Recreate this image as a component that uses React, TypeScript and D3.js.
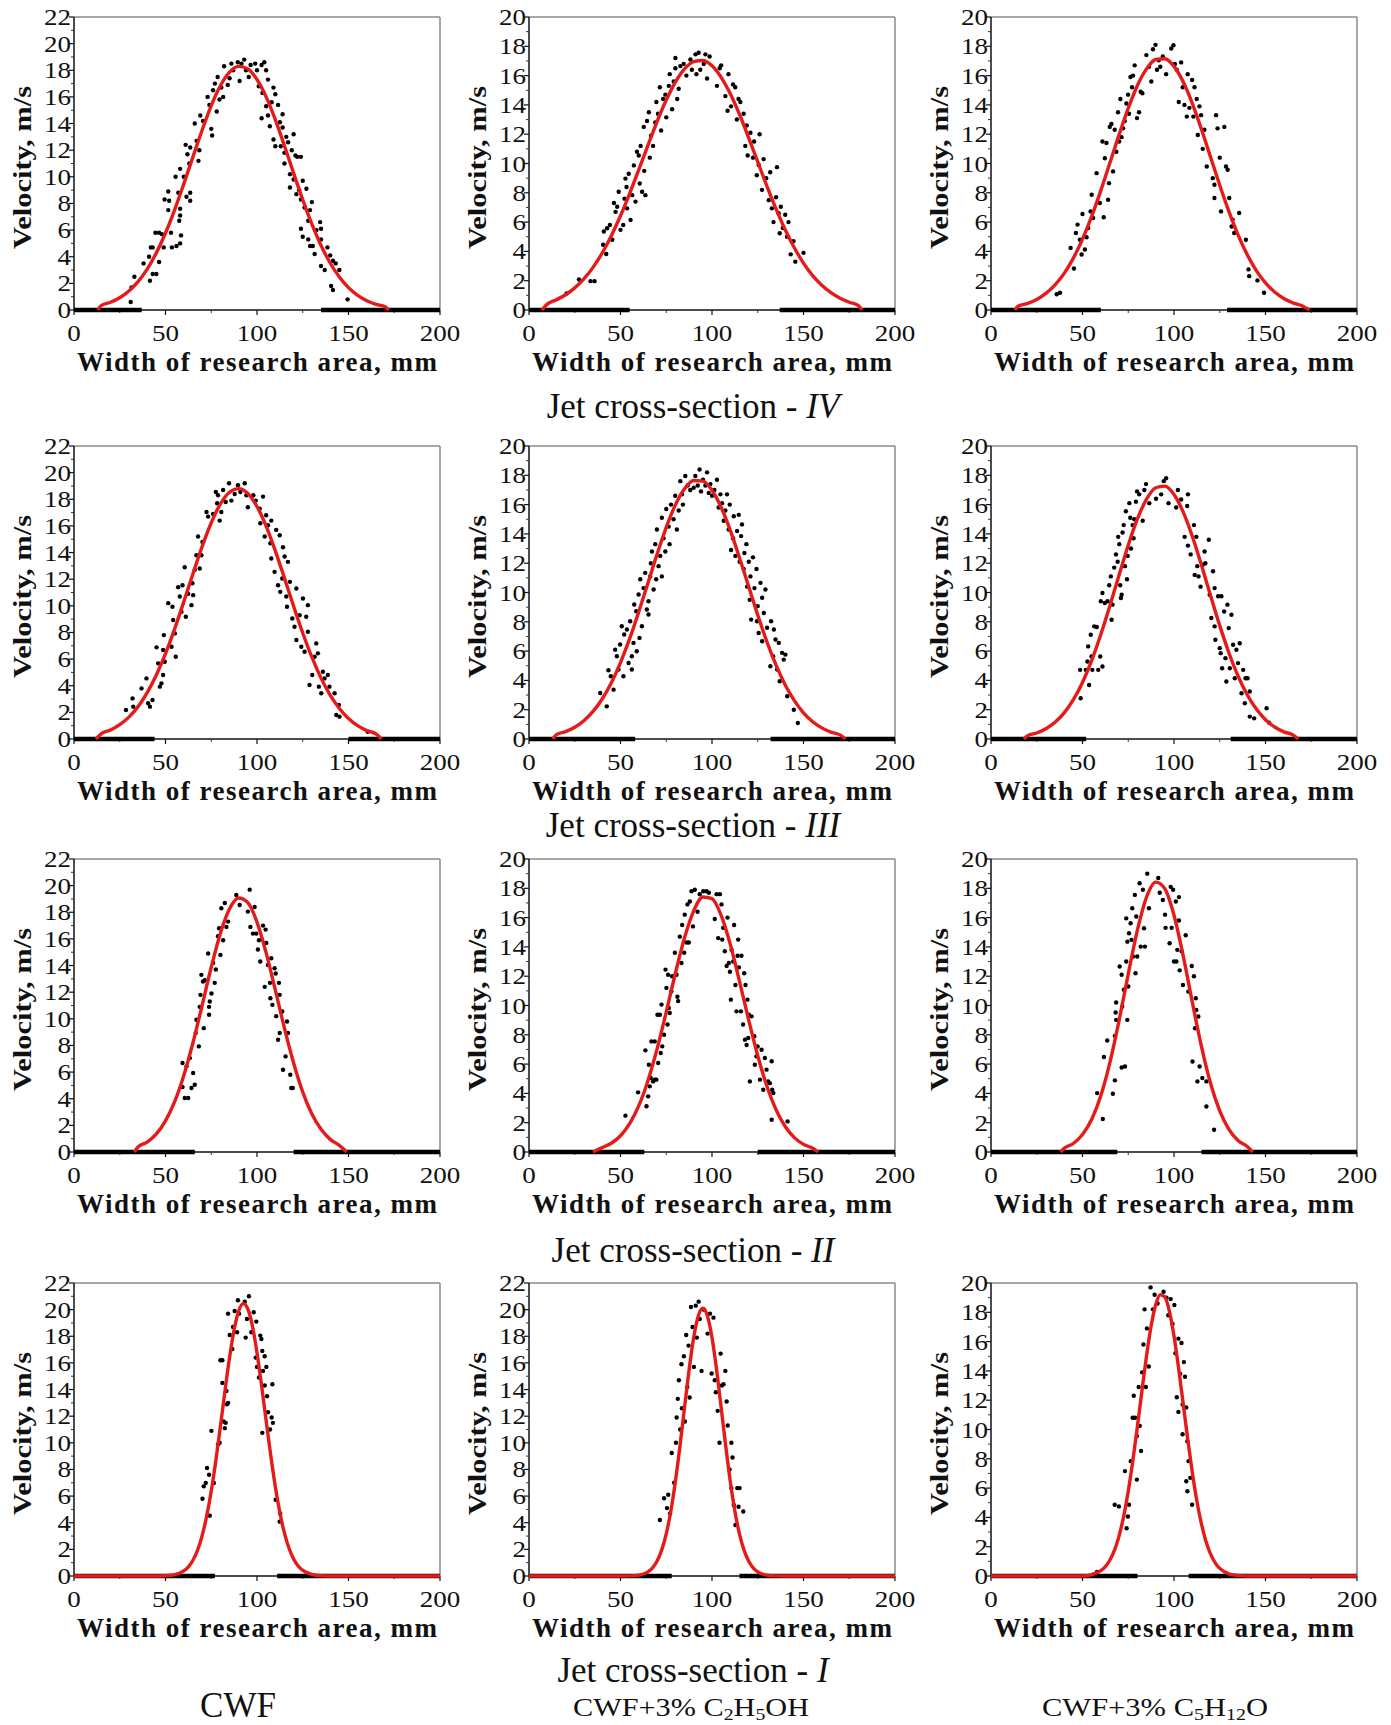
import React from "react";
import * as d3 from "d3";

type P = [number, number];

const X_TICKS = [0, 50, 100, 150, 200];
const SECTION_LABELS = ["IV", "III", "II", "I"];
const Y_MAX = [
  [22, 20, 20],
  [22, 20, 20],
  [22, 20, 20],
  [22, 22, 20],
];

// ---------- Section IV ----------
const PTS_IV_CWF: P[] = [[31,0.6],[31.5,1.7],[33,2.5],[38,3.5],[41,4.0],[42,4.7],[43,4.7],[41.5,2.2],[43,2.7],[45,2.7],[46.5,3.6],[44.5,5.8],[46.5,5.8],[48,5.7],[49,4.7],[49.5,8.3],[51.5,8.9],[52,8.2],[51.5,7.5],[53,5.8],[53.5,4.7],[56,4.8],[55.5,10],[57,8.8],[58,7.1],[58,7.6],[58.5,5.6],[58,5.0],[57.5,6.7],[58,10.6],[60,10],[61,12.4],[62,11.7],[63,11],[63.5,8.8],[63.5,8.2],[61.5,8.5],[63.5,12.2],[66,14],[67,12.7],[68,11.2],[68.5,12],[69,14.6],[70.5,14.2],[73,16],[74,15.4],[75,13.6],[75.5,13.1],[76,16.5],[77,17],[78,14.9],[78.5,17.5],[79.5,15.8],[80.5,16.7],[81.5,16],[82,18.3],[84,16.9],[85,17.4],[86,18.5],[87,18],[89.5,18.6],[90.5,17.2],[91.5,18.5],[93,18.8],[94,18],[95.5,17.5],[96.5,18.4],[99,18.5],[100,18],[101,16.8],[102.5,18.4],[103,16.3],[104,18.6],[105,18],[106,17.3],[102.5,14.4],[105,15.3],[106,14.6],[107,13.8],[108,15.6],[109,16.7],[110,16.2],[109,12.8],[110,12.3],[111.5,15.4],[112.5,14.1],[113,12.3],[114,13.7],[114,14.7],[115,11.8],[115,11],[116,13],[117,12.6],[118,10.2],[118,9.2],[119,12],[120,13.2],[120,9.8],[121,11.6],[121.5,8.7],[122,11.5],[123,9],[124,11.5],[124,8.3],[125,9.7],[126,7.7],[127,9.1],[128,6.7],[129,7.5],[130,8.1],[124,6.1],[125,5.5],[128,5.3],[129,4.8],[130.5,4.8],[131.5,4.2],[132.5,6],[134.5,6.6],[135,6.1],[135,5.3],[135,3.3],[137,3],[138.5,4.7],[140,4.1],[141.5,3.7],[143,3.5],[145,3],[140.5,1.8],[141.5,1.5],[149.5,0.8]];
const PTS_IV_C2: P[] = [[20.5,1.13],[27.3,2.08],[33.6,1.97],[35.8,1.97],[40.5,4.45],[42.2,3.82],[40.9,5.36],[42.7,5.58],[44.2,5.8],[45.5,4.8],[46.4,7.3],[47.3,6.7],[48.2,7.05],[49,8.07],[50,5.47],[51.5,5.8],[52.2,7.6],[52.7,8.97],[53.3,8.4],[53.6,6.94],[54.5,9.3],[55.5,6.15],[56.4,7.84],[57.3,9.87],[58.2,7.4],[59,10.8],[60,10.55],[60.5,8.63],[61,11.2],[61.8,8.07],[63,9.5],[63.6,7.84],[62.7,12.5],[64.5,12.9],[65.5,13.5],[66,10.4],[66.7,11.9],[67.8,11.2],[69,12.8],[69.6,14.2],[70.5,13.4],[71.5,15.2],[72.2,12.25],[73.3,14.4],[74.5,14.7],[75,13.15],[76.4,15.3],[76.9,16.1],[78.2,13.7],[79.1,15.6],[80,16.5],[80,17.2],[81,14.4],[81.8,15.1],[82.7,16.65],[84.5,16.8],[86,16],[88.2,17.1],[89,16.4],[91,17.45],[91.5,16.1],[92.7,17.56],[93.6,16.4],[95.5,16.8],[96.4,17.45],[97.3,15.8],[98.7,17.3],[102.7,15.3],[104.2,16.5],[105,16.7],[107.3,14.6],[108.5,13.6],[109,16.1],[110.4,13.9],[111.5,15.4],[112.7,15.2],[113.6,13.0],[114.5,14.4],[115.5,14.2],[117.3,13.4],[118.2,11.2],[119,12.6],[119.5,10.55],[121,12.1],[122.4,10.4],[123,11.5],[124.5,9.2],[125.5,9.9],[126,12.0],[127.3,8.2],[128.2,10.3],[129.6,9.0],[131,7.5],[131.8,9.4],[132.7,6.94],[133.6,6.0],[135,7.7],[135.5,9.75],[136.4,6.6],[137,5.24],[137.6,7.05],[138.7,5.6],[140,6.5],[141,5.0],[141.8,6.0],[143,3.8],[144.5,4.7],[145.5,3.3],[150,3.9]];
const PTS_IV_C5: P[] = [[35.9,1.07],[37.7,1.18],[43.5,4.24],[45.3,2.83],[46.4,5.26],[47.3,5.83],[48.6,4.8],[49.5,3.79],[50,6.55],[51.3,4.13],[52.2,4.97],[53.1,5.6],[54.4,6.73],[55,7.87],[55.8,6.28],[57.7,9.34],[59.5,7.3],[60.9,11.5],[61.6,6.33],[62.2,10.36],[63.1,11.4],[64,7.53],[64.5,8.66],[64.9,12.5],[65.8,12.7],[66.7,9.46],[67.6,12.3],[68.5,10.8],[69.4,13.5],[70,11.5],[70.7,14.4],[71.3,11.8],[72.2,12.4],[73.1,12.9],[74,14.1],[74.9,14.7],[75.4,13.4],[76.2,15.9],[77.1,15.2],[77.6,16],[78.5,16.7],[79.8,13.1],[80.9,13.5],[81.8,14.9],[82.7,14.8],[84.9,17.4],[86.3,16.6],[87.6,15.6],[88.5,17.8],[89.9,18.1],[90.7,16.4],[91.7,17.05],[92.5,16.6],[93.9,17.3],[95.7,16.1],[98.5,17.85],[99.7,18.07],[100.5,16.8],[101.5,16.4],[102.6,14.2],[103.9,16.9],[104.8,15.2],[105.7,14],[107,13.2],[107.5,16.1],[108.4,13.8],[109.9,15.7],[110.6,13.2],[111.2,15.2],[112.4,14.4],[113,11.95],[113.9,13.9],[114.8,13.3],[115.7,11],[116.6,12.3],[117.9,9.8],[121.2,9],[122.1,8.55],[122.1,7.64],[123,13.3],[123.8,12.4],[125,10.4],[125.7,6.73],[127.5,12.5],[128.4,9.8],[129.3,9.57],[130.2,7.64],[131.5,5.7],[132,6.17],[132.9,5.26],[135.6,6.62],[139.3,4.8],[140.7,2.77],[141.1,2.31],[145.6,2.02],[149.2,1.18]];

// ---------- Section III ----------
const PTS_III_CWF: P[] = [[28.4,2.18],[32,3.05],[32.4,2.43],[36.9,3.8],[39.6,4.55],[40.5,2.68],[41.5,2.43],[42.9,2.93],[45.1,6.88],[46,5.68],[46.9,3.93],[47.8,4.18],[48.7,4.8],[48.7,6.68],[49.1,7.8],[49.6,5.8],[51.5,10.2],[53.3,6.93],[53.8,9.93],[54.2,8.93],[55.1,7.93],[55.6,6.18],[56.9,11.4],[57.8,10.7],[58.7,9.55],[59.3,11.55],[60.5,12.9],[61.1,9.18],[62.4,10.9],[64.2,10.05],[64.7,11.7],[65.1,10.8],[66,12.7],[66.9,13.8],[67.8,15.2],[68.7,12.8],[69.6,13.8],[70.2,14.8],[72.4,17.05],[73.3,16.7],[76,16.9],[77.5,18.55],[78.2,17.7],[78.7,18.3],[79.6,16.4],[80.5,17.05],[81.5,18.7],[82.9,17.8],[84.7,19.2],[86,17.9],[87.8,18.4],[89.6,19.05],[90.9,18.55],[93.3,19.2],[94.2,18.3],[95,17.4],[98,18.3],[99.3,17.9],[101.5,17.3],[103.3,18.2],[101.8,16.2],[104.2,15.2],[105,16.8],[106,16.05],[107.3,14.7],[107.8,16.4],[107.8,13.55],[109.6,12.55],[110.5,15.7],[111.5,11.55],[112.4,15.3],[112.7,11.05],[113.8,12.05],[114.2,14.4],[115.1,13.7],[116,10.7],[116.4,9.93],[116.9,13.3],[118,11.8],[119.3,9.05],[120.5,8.43],[121.5,11.3],[121.5,7.43],[123.3,9.3],[124.2,6.93],[125.1,10.55],[126,6.55],[126.9,9.18],[127.8,10.05],[127.8,8.05],[128.7,4.05],[130.2,4.8],[131.5,6.18],[132.4,7.18],[133.3,6.43],[133.8,3.93],[135.1,3.43],[136,5.05],[136.9,4.55],[138.7,4.8],[139.6,3.93],[142.4,3.43],[143.3,1.8],[145.1,1.68],[144.7,2.55],[160.5,0.55]];
const PTS_III_C2: P[] = [[38.9,3.14],[42.5,2.23],[43.4,4.69],[44.7,4.28],[46.2,3.37],[47.1,6.1],[48,5.65],[48.9,4.74],[49.8,6.45],[50.7,7.7],[51.6,4.28],[52,7.13],[53.5,7.47],[54.4,5.19],[55.3,8.04],[56.2,5.65],[56.2,4.74],[57.1,6.56],[57.5,9.18],[58.6,8.72],[58.9,5.99],[59.9,9.86],[60.4,6.9],[60.8,10.9],[61.7,7.7],[62.6,10.3],[63.5,11.34],[64.4,8.84],[65.3,9.4],[65.3,8.5],[66.2,11.1],[66.6,12.0],[67.2,12.8],[68.1,10.2],[69,13.3],[69.5,10.9],[69.9,14.3],[70.8,11.8],[71.7,12.5],[72.6,11.1],[72.6,15.1],[73.5,13.7],[74.5,12.8],[75,15.7],[76.3,14.5],[76.8,13.3],[77.6,16],[79,15],[79.9,16.6],[80.8,14.3],[81.8,15.6],[82.7,17.6],[83.6,16.7],[84.1,16],[85.4,17.95],[86.7,17.3],[88.1,17.0],[90,17.15],[90.9,17.95],[92.2,17.3],[93.2,18.4],[94,16.9],[95.1,17.7],[96.4,17.3],[97.3,18.2],[98.2,16.8],[99.1,17.4],[100,16.6],[101.3,17.0],[102.7,17.7],[103.6,15.8],[104.6,16.7],[105.5,16.1],[106.4,14.9],[107.3,15.6],[108.2,16.7],[109.1,14.3],[109.7,16],[110.4,12.9],[111.5,13.7],[111.9,15.2],[112.8,12.5],[113.7,14.2],[114.6,15.3],[115.1,12.1],[115.9,13.85],[116.4,14.65],[117.3,11.6],[117.7,12.7],[118.8,13.3],[119.2,10.4],[120.1,12.1],[120.6,9.5],[121,11.1],[121.4,8.15],[122.4,12.4],[123.2,10.3],[124.3,11.6],[124.6,8.04],[125,9.07],[125.5,7.24],[126.5,10.66],[127.4,9.64],[127.4,6.67],[128.3,8.6],[129.2,10.2],[130.1,7.59],[131.9,4.97],[132.3,8.04],[133.4,5.65],[133.8,7.47],[134.7,6.79],[135.6,4.74],[136.5,6.56],[137,3.94],[138.3,5.88],[139.2,5.42],[140.1,5.76],[141.1,2.92],[144.7,2.0],[146.9,1.09]];
const PTS_III_C5: P[] = [[48.7,4.72],[49,2.78],[51.8,4.72],[52.7,5.29],[53.1,6.32],[53.6,3.69],[54.5,7.12],[54.9,5.63],[55.4,4.72],[56.4,7.69],[57.8,7.64],[58.6,4.72],[59.7,5.63],[60,9.4],[60.9,9.97],[60.9,4.95],[62.2,9.28],[63.7,9.4],[64.6,10.5],[65.5,11.1],[65.9,8.14],[66.4,9.17],[67.3,11.7],[68.3,12.6],[69.2,12.1],[69.5,13.8],[70.1,13.3],[70.6,10.5],[71,9.62],[71.4,9.85],[71.9,14.1],[72.5,14.6],[73.2,11.8],[73.7,15.55],[74.3,10.9],[74.7,12.5],[75.6,16.1],[76.1,15.1],[76.5,13],[77.4,14.6],[77.9,13.7],[78.3,15],[79.2,16.2],[79.8,16.9],[81,16.7],[82.9,14.9],[83.8,17.0],[84.7,17.4],[86.5,16.1],[90.2,16.4],[93,16.7],[94.4,17.6],[95.7,17.8],[97,16.1],[101.2,15.8],[102.1,17],[103.9,16.35],[105.8,13.8],[107.2,15.9],[107.6,16.7],[107.6,13.2],[109.1,12.6],[110.9,14.6],[111.3,11.2],[112.2,13.8],[112.7,11.8],[113.4,11.1],[114.5,10.4],[115.8,11.9],[116.7,12.8],[117.1,12.0],[119,13.6],[119.5,9.85],[120.4,8.26],[121.3,11.45],[122.2,10.3],[122.2,7.69],[122.6,6.77],[124.1,9.74],[125,6.2],[125.5,5.86],[125.9,9.74],[126.3,4.83],[127.4,8.7],[128.1,5.52],[128.6,3.92],[129.2,9.17],[129.9,7.57],[130.5,4.83],[131.4,8.48],[132.3,6.43],[133.2,4.15],[134.1,6.09],[135,5.18],[135.9,6.54],[136.9,3.12],[137.8,4.72],[139.1,4.15],[140.2,4.15],[141.4,3.24],[138.7,2.44],[141.4,1.53],[143.8,1.41],[150.6,2.1],[151.9,1.12]];

// ---------- Section II ----------
const PTS_II_CWF: P[] = [[59.3,6.68],[59.3,4.88],[60.5,4.05],[61.5,6.43],[62.4,4.05],[63.3,7.05],[64.2,4.8],[65.1,5.93],[66,5.05],[66.5,8.93],[66.9,9.93],[68.2,7.93],[68.7,10.9],[69.1,11.8],[69.6,13.3],[70.5,12.8],[70.9,9.3],[71.5,12.9],[73.3,14.9],[73.8,10.9],[74.2,11.3],[73.8,10.3],[75.1,11.9],[76,14.2],[76.9,12.7],[77.5,13.7],[78.7,16.2],[79.3,16.8],[80,14.8],[80.5,18.3],[81.5,15.9],[82.4,18.7],[83.3,16.9],[84.2,17.3],[88.7,19.3],[90.5,18.55],[96,19.7],[95,18.05],[96.4,16.9],[97.8,16.4],[98.7,18.4],[99.6,16.4],[100.5,15.2],[101.1,15.9],[101.8,14.3],[103.3,17],[104.2,12.4],[104.7,16.7],[105.1,15.7],[106,14.05],[107.1,12.7],[107.3,11.55],[107.8,14.55],[108.4,11.05],[109.6,13.8],[110.2,13.4],[110.5,10.2],[111.5,8.43],[112,12.7],[112.4,11.8],[112.4,8.93],[113.8,10.55],[114.2,6.18],[115.6,7.18],[116.4,9.8],[116.9,8.93],[118.2,5.8],[118.7,4.8],[119.6,4.8]];
const PTS_II_C2: P[] = [[52.7,2.48],[59.6,4.07],[63.6,6.94],[64.2,3.12],[65.1,3.8],[65.5,5.96],[66,4.48],[66.5,5.05],[66.9,7.55],[67.8,4.82],[68.7,7.55],[68.7,4.94],[69.6,4.94],[70.2,9.37],[70.6,6.07],[71.5,9.37],[72,6.76],[72.4,10.06],[72.8,7.21],[73.8,8.0],[74.6,12.45],[75.1,11.2],[75.7,8.7],[76,12.1],[76.4,9.83],[76.9,9.49],[77.8,10.97],[78.2,12.0],[79.7,13.6],[80.6,12.1],[81.1,10.6],[81.5,10.3],[82.4,14.7],[83.3,12.9],[83.7,15.5],[84.8,13.6],[85.1,16.2],[86.1,14.3],[86.6,16.9],[87.3,14.3],[87.9,17.1],[88.8,17.8],[89.6,15.4],[90.6,17.9],[92.1,16.4],[93.3,17.6],[95.2,17.8],[97,17.8],[98.3,17.7],[101.5,15.9],[102.5,17.6],[103.4,14.6],[104.3,17.6],[105.2,16.9],[105.6,14.5],[106.1,15.3],[107,13.7],[108,12.7],[108.5,16],[109.2,12.9],[109.8,12.3],[110.3,10.4],[110.7,13.8],[111.6,13.0],[112.1,15.5],[112.8,11.4],[113.4,9.6],[114,13.4],[114.3,14.5],[114.7,12.6],[115.8,9.6],[116.1,13.4],[117,8.7],[117.6,12.2],[118,7.67],[118.3,11.4],[118.9,7.3],[119.4,10.4],[119.8,7.78],[120.1,9.37],[120.7,4.82],[121.6,9.26],[123.1,7.9],[123.4,5.96],[124.3,6.53],[124.9,7.2],[126.2,4.94],[127.1,6.98],[128,4.25],[128.9,6.42],[129.8,5.62],[130.7,4.82],[131.6,4.7],[132.6,6.19],[132.9,4.25],[133.5,4.03],[132.6,2.2],[141.3,2.09]];
const PTS_II_C5: P[] = [[58,4.02],[61.1,2.25],[61.7,6.48],[63.5,7.61],[66.6,3.98],[67.7,4.89],[67.7,7.93],[68.1,9.52],[68.4,10.2],[68.4,9.02],[70.3,12.66],[71.4,12.1],[71.4,5.77],[71.7,9.93],[72.6,11.07],[73.2,5.84],[73.9,13.0],[73.9,15.95],[74.5,14.36],[74.5,9.02],[75,11.3],[75.4,14.93],[76.3,15.61],[76.8,14.48],[77.2,16.64],[77.6,13.34],[78.6,17.55],[79,12.2],[79.4,16.07],[79.9,13.34],[81.2,18.34],[81.8,14.02],[83,17.9],[83.6,15.27],[84.1,14.02],[85.4,19.0],[86.3,16.64],[91.4,18.7],[92.2,17.7],[93.9,17.2],[95.1,16.2],[95.4,15.3],[97.6,14.25],[98.2,18.1],[98.7,15.3],[99.5,17.9],[100,13.0],[101,17.1],[101.3,13.0],[101.8,13.8],[102.7,17.4],[102.7,15.8],[103.1,12.4],[104.2,13.7],[104.9,11.4],[106.4,14.8],[107.8,10.95],[109.7,12.7],[110.1,6.18],[110.9,12.0],[111.5,8.45],[111.9,10.5],[112.2,9.7],[112.8,4.82],[113.3,9.25],[114,5.84],[115.5,5.05],[117.7,4.82],[117.7,3.11],[121.9,1.52]];

// ---------- Section I ----------
const PTS_I_CWF: P[] = [[70.2,5.8],[70.9,6.73],[72,6.98],[72.7,8.11],[73.8,7.6],[74.2,4.53],[75.1,10.9],[76.4,6.98],[78.7,9.87],[79.6,10.0],[80,16.2],[81.1,16.2],[81.1,14.5],[81.8,11.6],[82.4,11.1],[82.9,11.5],[83.3,13.9],[83.6,12.9],[84.2,13.0],[85.1,18.1],[84.2,19.7],[86.5,17.05],[86.9,18.7],[87.8,19.9],[89.1,18.3],[89.6,20.7],[90.2,19.7],[93.3,20.6],[93.8,17.9],[95.6,21.0],[94.5,19.3],[96.9,18.3],[98.2,19.8],[99.6,19.1],[99.3,16.4],[100,15.7],[101.1,14.9],[101.8,18.05],[102.4,17.8],[102.9,16.9],[103.3,15.4],[102.9,10.75],[104.2,16.5],[104.2,14.3],[105.1,15.7],[105.5,13.5],[106,12.3],[107.1,11.0],[108,11.9],[108.4,14.4],[108.7,11.5],[110.2,5.72],[112.4,4.08],[112.7,4.7]];
const PTS_I_C2: P[] = [[71.5,4.2],[73.8,5.84],[75.4,5.1],[77.1,4.7],[76.1,6.1],[78,9.24],[79.3,7.0],[80.3,10.0],[80.7,11.9],[81.3,13.3],[81.9,14.7],[82.6,11.0],[83.3,15.9],[83.6,12.6],[84.6,16.5],[85.2,11.6],[85.9,18.1],[86.5,14.2],[87.2,17.3],[87.8,13.4],[88.5,20.2],[89.4,18.7],[90.1,15.7],[91.1,20.3],[91.7,17.9],[92.7,20.6],[93.3,19.3],[94.3,15.4],[95.6,20.0],[97.6,18.2],[98.9,19.7],[99.8,15.2],[100.8,19.4],[101.5,14.7],[102.1,13.8],[103.1,12.4],[104.1,10.0],[104.7,16.7],[105.4,14.3],[106.3,14.4],[107.3,15.4],[108,13.1],[108.6,11.3],[109.6,8.0],[110.6,10.0],[111.2,8.9],[110.6,6.6],[111.9,5.34],[112.8,3.83],[113.8,6.6],[115.1,6.6],[114.5,5.2],[117.1,4.84]];
const PTS_I_C5: P[] = [[57.9,0.28],[67.6,4.86],[69.9,4.75],[73.2,7.16],[74.1,3.26],[74.8,4.06],[75.4,4.86],[76.4,7.84],[77.4,10.8],[78,12.3],[78.7,10.8],[79.7,9.56],[79.7,6.58],[80.7,12.9],[81.3,10.25],[82,8.53],[82.6,13.9],[83.3,15.8],[83.9,18.2],[84.6,12.9],[85.2,16.9],[86.2,14.3],[87.2,19.7],[88.5,18.2],[89.4,19.2],[91,18.6],[94.3,19.4],[95.9,19.0],[96.9,17.8],[98.2,18.9],[99.2,17.2],[100.2,18.5],[100.8,15.2],[101.5,12.2],[102.4,16.2],[102.4,11.2],[103.4,13.8],[104.1,15.9],[104.7,11.7],[105.4,14.6],[106,13.6],[106.7,11.5],[104.7,9.68],[107.3,9.2],[108,7.84],[106.7,6.47],[108.9,6.7],[107.3,5.78],[109.9,4.86]];

// ---------- Fitted curves ----------
const CURVE_IV_CWF: P[] = [[13,0],[15,0.35],[20,0.58],[25,0.92],[30,1.43],[35,2.13],[40,3.07],[45,4.29],[50,5.78],[55,7.52],[60,9.47],[65,11.5],[70,13.5],[75,15.35],[80,16.84],[85,17.86],[90,18.29],[95,18.1],[100,17.31],[105,16.0],[110,14.29],[115,12.33],[120,10.28],[125,8.28],[130,6.45],[135,4.85],[140,3.53],[145,2.48],[150,1.68],[155,1.1],[160,0.7],[165,0.43],[170,0.25],[172,0]];
const CURVE_IV_C2: P[] = [[7,0],[10,0.4],[15,0.7],[20,1.04],[25,1.51],[30,2.12],[35,2.91],[40,3.89],[45,5.07],[50,6.43],[55,7.95],[60,9.58],[65,11.24],[70,12.86],[75,14.33],[80,15.56],[85,16.46],[90,16.96],[95,17.03],[100,16.67],[105,15.88],[110,14.76],[115,13.36],[120,11.77],[125,10.11],[130,8.46],[135,6.9],[140,5.48],[145,4.25],[150,3.2],[155,2.35],[160,1.69],[165,1.18],[170,0.8],[175,0.53],[180,0.3],[182,0]];
const CURVE_IV_C5: P[] = [[13,0],[15,0.27],[20,0.45],[25,0.72],[30,1.13],[35,1.71],[40,2.5],[45,3.54],[50,4.84],[55,6.39],[60,8.15],[65,10.05],[70,11.97],[75,13.77],[80,15.33],[85,16.46],[90,17.1],[95,17.15],[100,16.63],[105,15.58],[110,14.11],[115,12.34],[120,10.43],[125,8.52],[130,6.73],[135,5.13],[140,3.78],[145,2.69],[150,1.85],[155,1.23],[160,0.79],[165,0.49],[170,0.29],[174,0]];
const CURVE_III_CWF: P[] = [[12,0],[15,0.41],[20,0.68],[25,1.08],[30,1.64],[35,2.43],[40,3.48],[45,4.81],[50,6.41],[55,8.27],[60,10.3],[65,12.41],[70,14.45],[75,16.24],[80,17.65],[85,18.53],[90,18.8],[95,18.43],[100,17.46],[105,15.98],[110,14.13],[115,12.08],[120,9.97],[125,7.96],[130,6.14],[135,4.57],[140,3.29],[145,2.29],[150,1.54],[155,1.0],[160,0.63],[165,0.38],[168,0]];
const CURVE_III_C2: P[] = [[13,0],[15,0.3],[20,0.5],[25,0.8],[30,1.25],[35,1.88],[40,2.73],[45,3.84],[50,5.22],[55,6.85],[60,8.69],[65,10.65],[70,12.62],[75,14.45],[80,15.98],[85,17.08],[90,17.64],[95,17.6],[100,16.98],[105,15.82],[110,14.24],[115,12.39],[120,10.42],[125,8.46],[130,6.64],[135,5.04],[140,3.69],[145,2.62],[150,1.79],[155,1.18],[160,0.76],[165,0.47],[170,0.28],[173,0]];
const CURVE_III_C5: P[] = [[18,0],[20,0.23],[25,0.41],[30,0.7],[35,1.14],[40,1.78],[45,2.68],[50,3.86],[55,5.35],[60,7.13],[65,9.11],[70,11.2],[75,13.23],[80,15.02],[85,16.37],[90,17.15],[95,17.26],[100,16.69],[105,15.5],[110,13.84],[115,11.87],[120,9.78],[125,7.74],[130,5.89],[135,4.3],[140,3.02],[145,2.04],[150,1.32],[155,0.82],[160,0.49],[165,0.28],[168,0]];
const CURVE_II_CWF: P[] = [[33,0],[35,0.38],[40,0.74],[45,1.36],[50,2.34],[55,3.78],[60,5.75],[65,8.2],[70,11.0],[75,13.87],[80,16.42],[85,18.26],[90,19.07],[95,18.72],[100,17.26],[105,14.95],[110,12.17],[115,9.3],[120,6.68],[125,4.5],[130,2.85],[135,1.7],[140,0.95],[145,0.5],[149,0]];
const CURVE_II_C2: P[] = [[35,0],[40,0.3],[45,0.6],[50,1.11],[55,1.93],[60,3.16],[65,4.87],[70,7.04],[75,9.55],[80,12.2],[85,14.62],[90,16.46],[95,17.41],[100,17.3],[105,16.15],[110,14.17],[115,11.67],[120,9.03],[125,6.57],[130,4.49],[135,2.88],[140,1.74],[145,0.98],[150,0.52],[155,0.26],[158,0]];
const CURVE_II_C5: P[] = [[38,0],[40,0.26],[45,0.58],[50,1.19],[55,2.22],[60,3.84],[65,6.12],[70,8.98],[75,12.15],[80,15.14],[85,17.4],[90,18.42],[95,17.97],[100,16.16],[105,13.4],[110,10.23],[115,7.21],[120,4.67],[125,2.8],[130,1.54],[135,0.78],[140,0.37],[143,0]];
const CURVE_I_CWF: P[] = [[0,0],[45,0],[50,0.02],[55,0.1],[60,0.38],[62.5,0.69],[65,1.18],[67.5,1.93],[70,3.01],[72.5,4.49],[75,6.38],[77.5,8.66],[80,11.23],[82.5,13.89],[85,16.4],[87.5,18.49],[90,19.9],[92.5,20.45],[95,20.05],[97.5,18.77],[100,16.77],[102.5,14.31],[105,11.66],[107.5,9.06],[110,6.72],[112.5,4.76],[115,3.22],[117.5,2.08],[120,1.28],[122.5,0.75],[125,0.42],[130,0.12],[135,0.02],[140,0],[200,0]];
const CURVE_I_C2: P[] = [[0,0],[50,0],[55,0.01],[60,0.07],[62.5,0.15],[65,0.31],[67.5,0.61],[70,1.12],[72.5,1.94],[75,3.16],[77.5,4.88],[80,7.1],[82.5,9.76],[85,12.66],[87.5,15.5],[90,17.91],[92.5,19.53],[95,20.1],[97.5,19.53],[100,17.91],[102.5,15.5],[105,12.66],[107.5,9.76],[110,7.1],[112.5,4.88],[115,3.16],[117.5,1.94],[120,1.12],[122.5,0.61],[125,0.31],[127.5,0.15],[130,0.07],[135,0.01],[140,0],[200,0]];
const CURVE_I_C5: P[] = [[0,0],[50,0],[55,0.1],[60,0.36],[62.5,0.64],[65,1.09],[67.5,1.76],[70,2.74],[72.5,4.07],[75,5.78],[77.5,7.86],[80,10.2],[82.5,12.66],[85,15.03],[87.5,17.06],[90,18.52],[92.5,19.2],[95,19.05],[97.5,18.07],[100,16.38],[102.5,14.21],[105,11.77],[107.5,9.34],[110,7.08],[112.5,5.12],[115,3.55],[117.5,2.35],[120,1.49],[122.5,0.9],[125,0.52],[130,0.15],[135,0.04],[140,0],[200,0]];

// ---------- Ranges of zero-velocity points on the baseline ----------
const ZERO_IV: [number, number][][] = [[[0,37],[135,200]], [[0,55],[137,200]], [[0,60],[129,200]]];
const ZERO_III: [number, number][][] = [[[0,44],[150,200]], [[0,58],[132,200]], [[0,52],[131,200]]];
const ZERO_II: [number, number][][] = [[[0,66],[120,200]], [[0,63],[125,200]], [[0,69],[115,200]]];
const ZERO_I: [number, number][][] = [[[0,77],[111,200]], [[0,78],[115,200]], [[0,80],[108,200]]];

const POINTS = [
  [PTS_IV_CWF, PTS_IV_C2, PTS_IV_C5],
  [PTS_III_CWF, PTS_III_C2, PTS_III_C5],
  [PTS_II_CWF, PTS_II_C2, PTS_II_C5],
  [PTS_I_CWF, PTS_I_C2, PTS_I_C5],
];
const CURVES = [
  [CURVE_IV_CWF, CURVE_IV_C2, CURVE_IV_C5],
  [CURVE_III_CWF, CURVE_III_C2, CURVE_III_C5],
  [CURVE_II_CWF, CURVE_II_C2, CURVE_II_C5],
  [CURVE_I_CWF, CURVE_I_C2, CURVE_I_C5],
];
const ZEROS = [ZERO_IV, ZERO_III, ZERO_II, ZERO_I];

// ---------- Layout ----------
const W = 1391;
const H = 1725;
const COL_LEFT = [74, 529, 991];
const ROW_TOP = [17, 446, 859, 1283];
const PW = 366;
const PH = 293;
const CAPTION_Y = [418, 837, 1262, 1682];
const SERIF = "'Liberation Serif', 'Times New Roman', serif";
const RED = "#e51a1a";

function Panel({ left, top, yMax, pts, curve, zeros }: { left: number; top: number; yMax: number; pts: P[]; curve: P[]; zeros: [number, number][] }) {
  const x = d3.scaleLinear().domain([0, 200]).range([left, left + PW]);
  const y = d3.scaleLinear().domain([0, yMax]).range([top + PH, top]);
  const line = d3.line<P>().x((d) => x(d[0])).y((d) => y(d[1])).curve(d3.curveMonotoneX);
  const majorY = d3.range(0, yMax + 1, 2);
  const minorY = d3.range(1, yMax, 2);
  const minorX = [25, 75, 125, 175];
  const bottom = top + PH;
  return (
    <g>
      <line x1={left} y1={top} x2={left + PW} y2={top} stroke="#8a8a8a" strokeWidth={1.5} />
      <line x1={left + PW} y1={top} x2={left + PW} y2={bottom} stroke="#8a8a8a" strokeWidth={1.5} />
      <line x1={left} y1={top} x2={left} y2={bottom} stroke="#111" strokeWidth={1.5} />
      <line x1={left} y1={bottom} x2={left + PW} y2={bottom} stroke="#111" strokeWidth={1.5} />
      {majorY.map((v) => (
        <g key={"my" + v}>
          <line x1={left - 5} x2={left} y1={y(v)} y2={y(v)} stroke="#111" strokeWidth={1.2} />
          <text
            x={left - 3}
            y={y(v)}
            dominantBaseline="central"
            textAnchor="end"
            fontSize={24}
            fontFamily={SERIF}
            fill="#111"
            textLength={String(v).length * 13.5}
            lengthAdjust="spacingAndGlyphs"
          >
            {v}
          </text>
        </g>
      ))}
      {minorY.map((v) => (
        <line key={"ny" + v} x1={left - 3} x2={left} y1={y(v)} y2={y(v)} stroke="#333" strokeWidth={1} />
      ))}
      {X_TICKS.map((v) => (
        <g key={"mx" + v}>
          <line x1={x(v)} x2={x(v)} y1={bottom} y2={bottom + 5} stroke="#111" strokeWidth={1.2} />
          <text
            x={x(v)}
            y={bottom + 31}
            textAnchor="middle"
            fontSize={24}
            fontFamily={SERIF}
            fill="#111"
            textLength={String(v).length * 13.5}
            lengthAdjust="spacingAndGlyphs"
          >
            {v}
          </text>
        </g>
      ))}
      {minorX.map((v) => (
        <line key={"nx" + v} x1={x(v)} x2={x(v)} y1={bottom} y2={bottom + 3} stroke="#333" strokeWidth={1} />
      ))}
      {zeros.map((r, i) => (
        <line key={"z" + i} x1={x(r[0])} x2={x(r[1])} y1={y(0)} y2={y(0)} stroke="#000" strokeWidth={4.5} />
      ))}
      {pts.map((d, i) => (
        <circle key={i} cx={x(d[0])} cy={y(d[1])} r={2.2} fill="#000" />
      ))}
      <path d={line(curve) || ""} fill="none" stroke={RED} strokeWidth={3.4} strokeLinejoin="round" />
      <text
        transform={`translate(${left - 52},${top + PH / 2 + 4}) rotate(-90)`}
        textAnchor="middle"
        dominantBaseline="central"
        fontSize={26}
        fontWeight="bold"
        fontFamily={SERIF}
        textLength={163}
        lengthAdjust="spacingAndGlyphs"
        fill="#111"
      >
        Velocity, m/s
      </text>
      <text
        x={left + PW / 2}
        y={bottom + 61}
        textAnchor="middle"
        fontSize={27}
        fontWeight="bold"
        fontFamily={SERIF}
        textLength={360}
        lengthAdjust="spacing"
        fill="#111"
      >
        Width of research area, mm
      </text>
    </g>
  );
}

export default function App() {
  return (
    <svg width={W} height={H} viewBox={`0 0 ${W} ${H}`} style={{ position: "absolute", left: 0, top: 0, background: "#fff" }}>
      <rect x={0} y={0} width={W} height={H} fill="#fff" />
      {ROW_TOP.map((top, r) =>
        COL_LEFT.map((left, c) => (
          <Panel
            key={r + "-" + c}
            left={left}
            top={top}
            yMax={Y_MAX[r][c]}
            pts={POINTS[r][c]}
            curve={CURVES[r][c]}
            zeros={ZEROS[r][c]}
          />
        ))
      )}
      {SECTION_LABELS.map((s, r) => (
        <text key={s} x={693} y={CAPTION_Y[r]} textAnchor="middle" fontSize={35} fontFamily={SERIF} fill="#111">
          Jet cross-section - <tspan fontStyle="italic">{s}</tspan>
        </text>
      ))}
      <text x={238} y={1717} textAnchor="middle" fontSize={35} fontFamily={SERIF} fill="#111">CWF</text>
      <text x={691} y={1716} textAnchor="middle" fontSize={26} fontFamily={SERIF} fill="#111" textLength={236} lengthAdjust="spacingAndGlyphs">
        CWF+3% C<tspan fontSize={17} dy={4}>2</tspan><tspan dy={-4}>H</tspan><tspan fontSize={17} dy={4}>5</tspan><tspan dy={-4}>OH</tspan>
      </text>
      <text x={1155} y={1716} textAnchor="middle" fontSize={26} fontFamily={SERIF} fill="#111" textLength={226} lengthAdjust="spacingAndGlyphs">
        CWF+3% C<tspan fontSize={17} dy={4}>5</tspan><tspan dy={-4}>H</tspan><tspan fontSize={17} dy={4}>12</tspan><tspan dy={-4}>O</tspan>
      </text>
    </svg>
  );
}
